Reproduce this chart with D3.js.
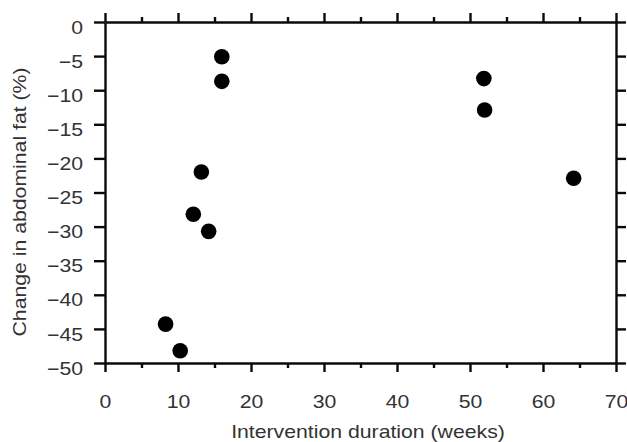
<!DOCTYPE html>
<html>
<head>
<meta charset="utf-8">
<script src="https://cdn.jsdelivr.net/npm/d3@7"></script>
<style>
  body { margin: 0; background: #fff; }
  svg { display: block; }
</style>
</head>
<body>
<div id="chart"></div>
<script>
// Study data: intervention duration (weeks) vs change in abdominal fat (%)
const durations = [16, 16, 13.2, 12.1, 14.2, 8.3, 10.3, 51.9, 52.0, 64.2];
const fatChange = [-5.1, -8.7, -22.0, -28.2, -30.7, -44.3, -48.2, -8.3, -12.9, -22.9];
const xTicks = [0, 10, 20, 30, 40, 50, 60, 70];
const xMinorTicks = [5, 15, 25, 35, 45, 55, 65];
const yTicks = [0, -5, -10, -15, -20, -25, -30, -35, -40, -45, -50];

const width = 627, height = 442;
const margin = { top: 22, right: 11, bottom: 79, left: 105 };

const svg = d3.select("#chart").append("svg")
    .attr("width", width)
    .attr("height", height);

const x = d3.scaleLinear().domain([0, 70]).range([margin.left, width - margin.right]);
const y = d3.scaleLinear().domain([-50, 0]).range([height - margin.bottom, margin.top]);

const font = "'Liberation Sans', Arial, sans-serif";
const ink = "#0a0a0a";
const textInk = "#333";
const stretch = 1.18; // the scanned text is a bit wider than Arial

function styleAxis(g) {
    g.selectAll(".domain").attr("stroke", ink).attr("stroke-width", 2.4);
    g.selectAll(".tick line").attr("stroke", ink).attr("stroke-width", 2.4);
    g.selectAll(".tick text")
        .attr("fill", textInk)
        .style("font-family", font)
        .style("font-size", "18px");
}

// bottom axis with labels
svg.append("g")
    .attr("transform", `translate(0,${y(-50)})`)
    .call(d3.axisBottom(x).tickValues(xTicks).tickSize(9).tickSizeOuter(0).tickPadding(36).tickFormat(d => d))
    .call(styleAxis)
    .call(g => g.selectAll(".tick text")
        .attr("dy", 0)
        .attr("transform", `scale(${stretch},1)`));

svg.append("g")
    .attr("transform", `translate(0,${y(-50)})`)
    .call(d3.axisBottom(x).tickValues(xMinorTicks).tickSize(5).tickFormat(""))
    .call(styleAxis)
    .call(g => g.select(".domain").remove());

// top axis, ticks only
svg.append("g")
    .attr("transform", `translate(0,${y(0)})`)
    .call(d3.axisTop(x).tickValues(xTicks).tickSize(9).tickSizeOuter(0).tickFormat(""))
    .call(styleAxis);

svg.append("g")
    .attr("transform", `translate(0,${y(0)})`)
    .call(d3.axisTop(x).tickValues(xMinorTicks).tickSize(5).tickFormat(""))
    .call(styleAxis)
    .call(g => g.select(".domain").remove());

// left axis with labels
svg.append("g")
    .attr("transform", `translate(${x(0)},0)`)
    .call(d3.axisLeft(y).tickValues(yTicks).tickSize(11).tickSizeOuter(0)
        .tickFormat(d => d === 0 ? "0" : "\u2212" + Math.abs(d)))
    .call(styleAxis)
    .call(g => g.selectAll(".tick text")
        .attr("x", -22 / stretch)
        .attr("dy", "0.62em")
        .attr("transform", `scale(${stretch},1)`));

// right axis, ticks only
svg.append("g")
    .attr("transform", `translate(${x(70)},0)`)
    .call(d3.axisRight(y).tickValues(yTicks).tickSize(10).tickSizeOuter(0).tickFormat(""))
    .call(styleAxis);

// points
svg.append("g")
    .selectAll("circle")
    .data(durations.map((d, i) => ({ x: d, y: fatChange[i] })))
    .join("circle")
    .attr("cx", d => x(d.x))
    .attr("cy", d => y(d.y))
    .attr("r", 7.8)
    .attr("fill", "#000");

// axis titles
svg.append("text")
    .attr("transform", `translate(368,438) scale(${stretch},1)`)
    .attr("text-anchor", "middle")
    .attr("fill", textInk)
    .style("font-family", font)
    .style("font-size", "18px")
    .text("Intervention duration (weeks)");

svg.append("text")
    .attr("transform", `translate(26,202) rotate(-90) scale(${stretch},1)`)
    .attr("text-anchor", "middle")
    .attr("fill", textInk)
    .style("font-family", font)
    .style("font-size", "18px")
    .text("Change in abdominal fat (%)");
</script>
</body>
</html>
